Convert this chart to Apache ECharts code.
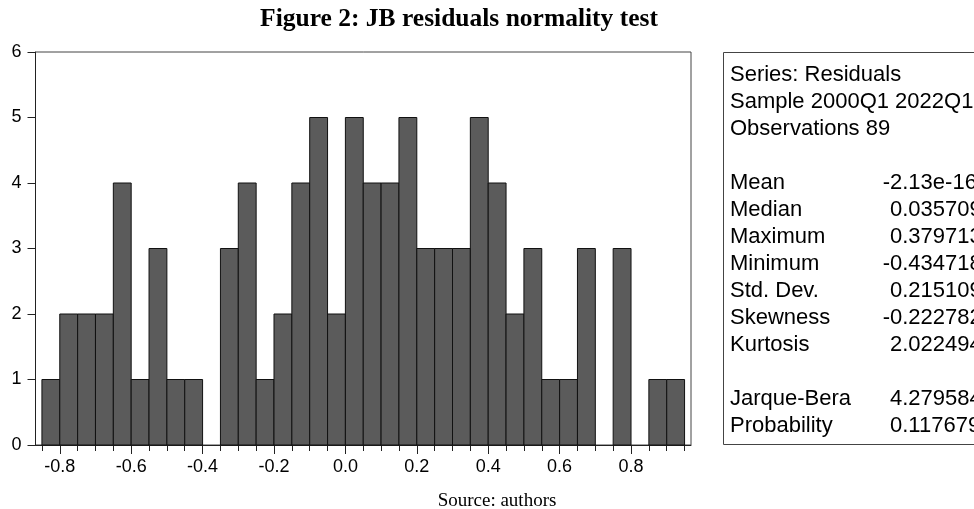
<!DOCTYPE html>
<html>
<head>
<meta charset="utf-8">
<script src="https://cdn.jsdelivr.net/npm/echarts@6/dist/echarts.min.js"></script>
<style>
    html, body { margin: 0; padding: 0; background: #fff; }
    #main { width: 974px; height: 509px; }
</style>
</head>
<body>
<div id="main"></div>
<script>
"use strict";

// 直方图分箱（左端点）与频数
let bin_start = [-0.85, -0.80, -0.75, -0.70, -0.65, -0.60, -0.55, -0.50, -0.45, -0.40,
    -0.35, -0.30, -0.25, -0.20, -0.15, -0.10, -0.05, 0.00, 0.05, 0.10,
    0.15, 0.20, 0.25, 0.30, 0.35, 0.40, 0.45, 0.50, 0.55, 0.60,
    0.65, 0.70, 0.75, 0.80, 0.85, 0.90];
let counts = [1, 2, 2, 2, 4, 1, 3, 1, 1, 0,
    3, 4, 1, 2, 4, 5, 2, 5, 4, 4,
    5, 3, 3, 3, 5, 4, 2, 3, 1, 1,
    3, 0, 3, 0, 1, 1];
let bin_width = 0.05;

// 坐标轴刻度
let minor_ticks = [-0.85, -0.80, -0.75, -0.70, -0.65, -0.60, -0.55, -0.50, -0.45, -0.40,
    -0.35, -0.30, -0.25, -0.20, -0.15, -0.10, -0.05, 0.00, 0.05, 0.10,
    0.15, 0.20, 0.25, 0.30, 0.35, 0.40, 0.45, 0.50, 0.55, 0.60,
    0.65, 0.70, 0.75, 0.80, 0.85, 0.90, 0.95];
let major_ticks = [-0.8, -0.6, -0.4, -0.2, 0.0, 0.2, 0.4, 0.6, 0.8];

// 统计量表
let header_lines = ["Series: Residuals", "Sample 2000Q1 2022Q1", "Observations 89"];
let stat_names = ["Mean", "Median", "Maximum", "Minimum", "Std. Dev.", "Skewness", "Kurtosis"];
let stat_values = ["-2.13e-16", "0.035709", "0.379713", "-0.434718", "0.215109", "-0.222782", "2.022494"];
let test_names = ["Jarque-Bera", "Probability"];
let test_values = ["4.279584", "0.117679"];

let myChart = echarts.init(document.getElementById('main'));

let sansFont = "'Liberation Sans', Arial, sans-serif";
let serifFont = "'Liberation Serif', 'Times New Roman', serif";

let row_h = 27; // 统计框行距

// 右侧统计框
let graphics = [
    {
        type: 'rect',
        shape: { x: 723.5, y: 52.5, width: 300, height: 392 },
        style: { fill: '#fff', stroke: '#444', lineWidth: 1 },
    },
    { // 标题
        type: 'text',
        x: 459, y: 19,
        style: {
            text: "Figure 2: JB residuals normality test",
            font: "bold 25.5px " + serifFont,
            fill: '#000', textAlign: 'center', textVerticalAlign: 'middle',
        },
    },
    { // 来源
        type: 'text',
        x: 497, y: 501,
        style: {
            text: "Source: authors",
            font: "19px " + serifFont,
            fill: '#000', textAlign: 'center', textVerticalAlign: 'middle',
        },
    },
];

function addLine(str, x, y) {
    graphics.push({
        type: 'text', x: x, y: y,
        style: {
            text: str, font: "22px " + sansFont, fill: '#000',
            textAlign: 'left', textVerticalAlign: 'middle',
        },
    });
}

let y0 = 75;
header_lines.forEach((s, i) => addLine(s, 730, y0 + i * row_h));
stat_names.forEach((s, i) => {
    let y = y0 + (4 + i) * row_h;
    addLine(s, 730, y);
    let v = stat_values[i];
    addLine(v, v.charAt(0) === '-' ? 882.7 : 890, y);
});
test_names.forEach((s, i) => {
    let y = y0 + (12 + i) * row_h;
    addLine(s, 730, y);
    addLine(test_values[i], 890, y);
});

let option = {
    animation: false,
    grid: {
        left: 35.5,
        right: 283,
        top: 52,
        bottom: 64,
        show: true,
        borderColor: '#444',
        borderWidth: 1,
    },
    xAxis: [
        { // 小刻度
            type: 'value',
            min: -0.868,
            max: 0.968,
            position: 'bottom',
            axisLine: { show: true, onZero: false, lineStyle: { color: '#222', width: 1 } },
            axisTick: { show: true, length: 6, customValues: minor_ticks, lineStyle: { color: '#222' } },
            axisLabel: { show: false },
            splitLine: { show: false },
        },
        { // 大刻度与标签
            type: 'value',
            min: -0.868,
            max: 0.968,
            position: 'bottom',
            axisLine: { show: false, onZero: false },
            axisTick: { show: true, length: 9, customValues: major_ticks, lineStyle: { color: '#222' } },
            axisLabel: {
                show: true,
                customValues: major_ticks,
                margin: 13,
                color: '#000',
                fontSize: 18,
                fontFamily: sansFont,
                formatter: (v) => v.toFixed(1),
            },
            splitLine: { show: false },
        },
    ],
    yAxis: {
        type: 'value',
        min: 0,
        max: 6,
        interval: 1,
        axisLine: { show: true, onZero: false, lineStyle: { color: '#222', width: 1 } },
        axisTick: { show: true, length: 8, lineStyle: { color: '#222' } },
        axisLabel: {
            color: '#000',
            fontSize: 18,
            fontFamily: sansFont,
            margin: 14,
            padding: [0, 0, 6, 0],
        },
        splitLine: { show: false },
    },
    series: [
        {
            type: 'custom',
            xAxisIndex: 0,
            data: bin_start.map((s, i) => [s, s + bin_width, counts[i]]),
            renderItem: function (params, api) {
                if (api.value(2) === 0) {
                    return;
                }
                let p0 = api.coord([api.value(0), api.value(2)]);
                let p1 = api.coord([api.value(1), 0]);
                return {
                    type: 'rect',
                    shape: { x: p0[0], y: p0[1], width: p1[0] - p0[0], height: p1[1] - p0[1] },
                    style: { fill: '#5b5b5b', stroke: '#111', lineWidth: 1 },
                };
            },
        },
    ],
    graphic: graphics,
};

myChart.setOption(option);
</script>
</body>
</html>
